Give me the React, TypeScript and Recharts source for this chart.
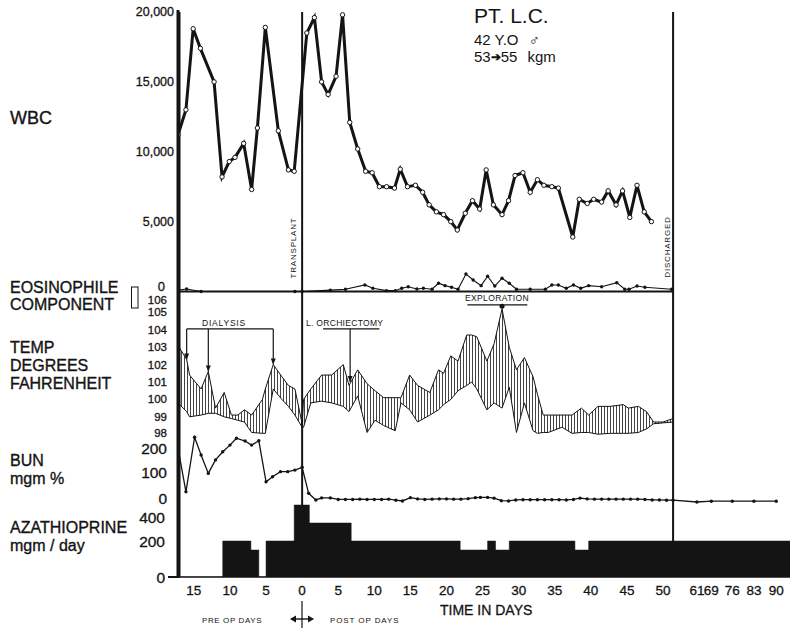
import React from 'react';
import { ComposedChart, Line, Area, XAxis, YAxis, ReferenceLine, ReferenceDot, ReferenceArea } from 'recharts';

// ---------- values ----------
// x: days relative to transplant (negative = pre op)
const xTickDays = [-15, -10, -5, 0, 5, 10, 15, 20, 25, 30, 35, 40, 45, 50, 61, 69, 76, 83, 90];
// after discharge the time axis is compressed
const lateDays = [61, 69, 76, 83, 90];
const lateDayPos = [54.7, 56.7, 59.6, 62.6, 65.7];

const TRANSPLANT_DAY = 0;
const DISCHARGE_DAY = 51.4;

const wbcDays = [
  -17.2, -16.1, -15.1, -14.1, -12.2, -11.1, -10.1, -9.3, -8.1, -7.0, -6.2, -5.1, -3.3, -1.9, -1.1,
  0.65, 1.7, 2.7, 3.6, 4.7, 5.6, 6.6, 7.7, 8.8, 9.7, 10.7, 11.7, 12.8, 13.6, 14.6, 15.7, 16.7, 17.6,
  18.6, 19.6, 20.6, 21.5, 22.6, 23.6, 24.6, 25.5, 26.5, 27.7, 28.6, 29.5, 30.6, 31.6, 32.6, 33.5,
  34.6, 35.5, 37.5, 38.4, 39.5, 40.4, 41.5, 42.4, 43.5, 44.4, 45.4, 46.4, 47.4, 48.4,
];
const wbcCounts = [
  11200, 13000, 18800, 17400, 15000, 8200, 9300, 9600, 10600, 7300, 11700, 18900, 11500, 8700, 8600,
  18500, 19600, 15000, 14100, 15400, 19800, 12100, 10200, 8600, 8500, 7500, 7500, 7400, 8750, 7500,
  7600, 7100, 6200, 5700, 5500, 5000, 4400, 5600, 6500, 5900, 8700, 6200, 5500, 6500, 8300, 8500,
  7100, 8000, 7600, 7500, 7400, 3900, 6600, 6300, 6600, 6400, 7200, 6200, 7200, 5300, 7600, 5700, 5000,
];

const eosDays = [
  -17.2, -16, -14, -1, 0, 3.9, 6, 8.7, 9.8, 11.7, 12.9, 13.8, 14.7, 15.9, 16.8, 18, 18.9, 19.8, 20.7,
  21.6, 22.7, 23.7, 24.8, 25.7, 26.7, 27.7, 28.7, 29.7, 31.6, 33.7, 34.6, 35.5, 36.6, 37.6, 38.6,
  39.7, 41.5, 43.6, 44.7, 45.3, 46.4, 47.5, 51.2,
];
const eosCounts = [
  100, 180, 0, 0, 0, 100, 160, 470, 230, 60, 60, 230, 340, 180, 230, 160, 590, 420, 300, 160, 1250,
  820, 420, 1100, 390, 950, 590, 160, 160, 160, 470, 470, 230, 470, 230, 420, 340, 630, 160, 160,
  390, 300, 160,
];

const tempDays = [
  -17.2, -16, -15.6, -14, -13, -12, -10.8, -9.8, -8.9, -8, -7, -5.5, -5.1, -4, -2.8, -1.9, -1, 0,
  0.2, 1.2, 2.7, 4.1, 5.7, 6.5, 7.7, 9, 10.1, 11.3, 12.9, 13.7, 14.9, 16, 17.7, 18.9, 19.6, 20.6,
  21.6, 22.8, 23.5, 24.2, 25.6, 26.6, 27.7, 28.7, 29.7, 30.8, 32, 32.6, 33.4, 34.1, 36, 37.4, 38.7,
  39.7, 41, 42.7, 44.5, 45.2, 46.6, 47.7, 48.7, 50, 51.4,
];
const tempHigh = [
  103.1, 102.3, 101.4, 100.6, 101.6, 99.5, 100.4, 99.1, 99.1, 99.4, 99.1, 100.0, 100.6, 102.0,
  101.3, 100.8, 100.6, 98.6, 100.0, 100.6, 101.4, 101.4, 102.0, 100.8, 101.7, 100.9, 100.5, 100.1,
  100.1, 100.1, 101.4, 100.8, 100.4, 101.7, 101.5, 102.5, 102.2, 103.7, 103.7, 103.6, 102.2, 103.2,
  105.2, 103.0, 101.7, 102.4, 101.3, 100.3, 99.1, 99.1, 99.1, 99.1, 99.5, 99.1, 99.6, 99.6, 99.7,
  99.5, 99.6, 99.3, 98.7, 98.7, 98.9,
];
const tempLow = [
  99.8, 99.3, 99.0, 99.1, 99.2, 99.2, 99.0, 98.9, 98.8, 98.7, 98.1, 98.05, 98.05, 100.6, 100.0,
  99.6, 99.1, 98.4, 98.4, 99.8, 99.9, 99.8, 99.6, 99.3, 100.2, 98.1, 98.8, 98.5, 98.2, 99.8, 99.4,
  98.7, 99.1, 99.4, 99.7, 100.0, 100.5, 100.8, 101.0, 100.6, 99.4, 99.8, 99.5, 100.7, 98.1, 99.8,
  98.2, 98.05, 98.1, 98.1, 98.4, 98.05, 98.1, 98.1, 98.0, 98.05, 98.05, 98.05, 98.1, 98.3, 98.6,
  98.65, 98.7,
];

const bunDays = [
  -17.2, -16.1, -14.9, -14, -13, -12, -11, -10, -9.1, -7.9, -7, -6, -5, -4.1, -3, -2, -1, 0, 0.9,
  1.9, 2.7, 3.9, 5, 6, 7, 8, 9, 10, 11, 12, 13, 13.9, 15, 16, 17, 18, 19, 20, 21, 22, 23, 24, 24.7,
  25.7, 26.6, 27.6, 28.6, 29.6, 30.6, 31.6, 32.6, 33.6, 34.6, 35.6, 36.6, 37.6, 38.5, 39.5, 40.5,
  41.5, 42.5, 43.5, 44.5, 45.5, 46.5, 47.5, 48.5, 49.5, 50.5, 51.4, 61, 69, 76, 83, 90,
];
const bunValues = [
  215, 44, 258, 188, 116, 169, 201, 227, 254, 243, 227, 244, 83, 103, 123, 123, 129, 140, 38, 12,
  20, 20, 14, 14, 14, 15, 14, 14, 14, 15, 11, 8, 21, 16, 14, 15, 16, 16, 15, 15, 17, 21, 22, 22, 19,
  9, 8, 12, 13, 13, 13, 13, 13, 13, 12, 14, 19, 16, 15, 15, 15, 15, 15, 15, 15, 14, 12, 12, 11, 11,
  4, 7, 7, 7, 7,
];

// azathioprine dose changes (day the dose starts, mgm/day); last dose runs to the end of the axis
const azaDays = [-17.2, -11, -7.1, -6, -5, -1.1, 1, 6.8, 21.9, 25.7, 26.8, 28.7, 37.8, 39.7];
const azaDoses = [0, 200, 150, 0, 200, 400, 300, 200, 150, 200, 150, 200, 150, 200];

const wbcTicks = [0, 5000, 10000, 15000, 20000];
const tempTicks = [98, 99, 100, 101, 102, 103, 104, 105, 106];
const bunTicks = [0, 100, 200];
const azaTicks = [0, 200, 400];

// ---------- layout ----------
const INK = '#141414';
const FONT = '"Liberation Sans", Arial, sans-serif';
const W = 800;
const H = 636;
const PLOT_TOP = 12;
const PLOT_BOTTOM = 577;
const PLOT_LEFT = 178;
const X_MIN = -17.2;
const X_MAX = 67.6;

// put value v1 at pixel p1 and v2 at pixel p2 inside the one shared plot area
function bandDomain(v1: number, p1: number, v2: number, p2: number): [number, number] {
  const k = (v1 - v2) / (p2 - p1);
  return [v2 - (PLOT_BOTTOM - p2) * k, v1 + (p1 - PLOT_TOP) * k];
}
const wbcDomain = bandDomain(20000, 12, 0, 291.5);
const tempDomain = bandDomain(106, 295, 98, 434.2);
const bunDomain = bandDomain(200, 452, 0, 503);
const azaDomain = bandDomain(400, 505, 0, 577);

function axisPos(day: number) {
  if (day <= DISCHARGE_DAY) return day;
  const i = lateDays.indexOf(day);
  if (i >= 0) return lateDayPos[i];
  return day;
}

const xTickPos = xTickDays.map(axisPos);
const xTickLabel = (v: number) => {
  const i = xTickPos.indexOf(v);
  return i >= 0 ? String(Math.abs(xTickDays[i])) : '';
};

const wbcData = wbcDays.map((d, i) => ({ x: axisPos(d), wbc: wbcCounts[i] }));
const eosData = eosDays.map((d, i) => ({ x: axisPos(d), eos: eosCounts[i] }));
const tempData = tempDays.map((d, i) => ({
  x: axisPos(d),
  high: tempHigh[i],
  low: tempLow[i],
  band: [tempLow[i], tempHigh[i]],
}));
const bunData = bunDays.map((d, i) => ({ x: axisPos(d), bun: bunValues[i] }));
const azaData = [
  ...azaDays.map((d, i) => ({ x: axisPos(d), aza: azaDoses[i] })),
  { x: X_MAX, aza: azaDoses[azaDoses.length - 1] },
];

type TickCfg = {
  size: number;
  right: number;
  format?: (v: number) => string;
  nudge?: Record<number, number>;
  shift?: Record<number, number>;
  sizes?: Record<number, number>;
};

function makeTick(cfg: TickCfg) {
  return (p: any) => {
    const v = p.payload.value;
    const label = cfg.format ? cfg.format(v) : String(v);
    const y = p.y + (cfg.nudge?.[v] ?? 0);
    return (
      <text
        x={cfg.right + (cfg.shift?.[v] ?? 0)}
        y={y}
        textAnchor="end"
        dominantBaseline="central"
        fontSize={cfg.sizes?.[v] ?? cfg.size}
        fontFamily={FONT}
        fill={INK}
        stroke={INK}
        strokeWidth={0.3}
      >
        {label}
      </text>
    );
  };
}

const wbcTick = makeTick({
  size: 12.5,
  right: 174,
  format: (v) => v.toLocaleString('en-US'),
  nudge: { 0: -5.5 },
  shift: { 0: -9 },
  sizes: { 0: 13 },
});
const tempTick = makeTick({ size: 11.5, right: 167, nudge: { 106: 5, 98: -1 } });
const bunTick = makeTick({ size: 15.5, right: 167, nudge: { 0: -5, 100: -5, 200: -4 } });
const azaTick = makeTick({ size: 15.5, right: 165, nudge: { 400: 12 } });

const Arrow = (p: any) => (
  <g>
    <line x1={p.x1} y1={p.y1} x2={p.x2} y2={p.y2} stroke={INK} strokeWidth={1.2} />
    <path d={`M${p.x2 - 2.5},${p.y2 - 6} L${p.x2 + 2.5},${p.y2 - 6} L${p.x2},${p.y2} Z`} fill={INK} />
  </g>
);

const small = { fontFamily: FONT, fontSize: 8.5, letterSpacing: 0.8, fill: INK };
const big = { fontFamily: FONT, fontSize: 16, fill: INK, stroke: INK, strokeWidth: 0.35 };

export default function App() {
  return (
    <div style={{ position: 'absolute', left: 0, top: 0, width: W, height: H, background: '#fff' }}>
      <ComposedChart
        width={W}
        height={H}
        margin={{ top: PLOT_TOP, right: 10, bottom: 29, left: PLOT_LEFT - 4 }}
        style={{ fontFamily: FONT }}
      >
        <defs>
          <pattern id="vhatch" width="3" height="4" patternUnits="userSpaceOnUse">
            <line x1="1.5" y1="0" x2="1.5" y2="4" stroke={INK} strokeWidth="0.8" />
          </pattern>
        </defs>
        <XAxis
          type="number"
          dataKey="x"
          domain={[X_MIN, X_MAX]}
          ticks={xTickPos}
          tickFormatter={xTickLabel}
          interval={0}
          allowDataOverflow
          height={30}
          axisLine={{ stroke: INK, strokeWidth: 1.5 }}
          tickLine={false}
          tick={{ fontSize: 13.5, fill: INK, fontFamily: FONT, stroke: INK, strokeWidth: 0.3 }}
        />
        <YAxis yAxisId="wbc" type="number" domain={wbcDomain} ticks={wbcTicks} interval={0}
          allowDataOverflow width={1} axisLine={false} tickLine={false} tick={wbcTick} />
        <YAxis yAxisId="temp" type="number" domain={tempDomain} ticks={tempTicks} interval={0}
          allowDataOverflow width={1} axisLine={false} tickLine={false} tick={tempTick} />
        <YAxis yAxisId="bun" type="number" domain={bunDomain} ticks={bunTicks} interval={0}
          allowDataOverflow width={1} axisLine={false} tickLine={false} tick={bunTick} />
        <YAxis yAxisId="aza" type="number" domain={azaDomain} ticks={azaTicks} interval={0}
          allowDataOverflow width={1} axisLine={false} tickLine={false} tick={azaTick} />

        {/* left frame: a thin strip at the start of the time axis */}
        <ReferenceArea
          yAxisId="wbc"
          x1={X_MIN}
          x2={X_MIN + 0.35}
          fill={INK}
          fillOpacity={1}
          stroke="none"
          ifOverflow="visible"
        />
        <ReferenceLine yAxisId="wbc" x={TRANSPLANT_DAY} stroke={INK} strokeWidth={2} />
        <ReferenceLine yAxisId="wbc" x={DISCHARGE_DAY} stroke={INK} strokeWidth={2} />
        <ReferenceLine
          yAxisId="wbc"
          segment={[{ x: X_MIN, y: 0 }, { x: DISCHARGE_DAY, y: 0 }]}
          stroke={INK}
          strokeWidth={1.8}
        />

        <Area
          yAxisId="aza"
          data={azaData}
          dataKey="aza"
          type="stepAfter"
          fill={INK}
          fillOpacity={1}
          stroke={INK}
          strokeWidth={0.5}
          isAnimationActive={false}
        />

        <Area
          yAxisId="temp"
          data={tempData}
          dataKey="band"
          type="linear"
          fill="url(#vhatch)"
          fillOpacity={1}
          stroke="none"
          isAnimationActive={false}
        />
        <Line yAxisId="temp" data={tempData} dataKey="high" type="linear" stroke={INK}
          strokeWidth={1} dot={false} isAnimationActive={false} />
        <Line yAxisId="temp" data={tempData} dataKey="low" type="linear" stroke={INK}
          strokeWidth={1} dot={false} isAnimationActive={false} />

        {/* dialysis bracket and arrows */}
        <ReferenceLine yAxisId="temp" segment={[{ x: -16, y: 104.05 }, { x: -4, y: 104.05 }]} stroke={INK} strokeWidth={1.2} />
        <ReferenceLine yAxisId="temp" segment={[{ x: -16, y: 104.05 }, { x: -16, y: 102.3 }]} shape={Arrow} />
        <ReferenceLine yAxisId="temp" segment={[{ x: -13, y: 104.05 }, { x: -13, y: 101.6 }]} shape={Arrow} />
        <ReferenceLine yAxisId="temp" segment={[{ x: -4, y: 104.05 }, { x: -4, y: 102.0 }]} shape={Arrow} />
        {/* orchiectomy */}
        <ReferenceLine yAxisId="temp" segment={[{ x: 2.9, y: 104.05 }, { x: 10.7, y: 104.05 }]} stroke={INK} strokeWidth={1.2} />
        <ReferenceLine yAxisId="temp" segment={[{ x: 6.65, y: 104.05 }, { x: 6.65, y: 101.0 }]} shape={Arrow} />
        {/* exploration */}
        <ReferenceLine yAxisId="temp" segment={[{ x: 22.9, y: 105.43 }, { x: 31.2, y: 105.43 }]} stroke={INK} strokeWidth={1.4} />
        <ReferenceDot yAxisId="temp" x={27.7} y={105.35} r={2.5} fill={INK} stroke="none" />

        <Line yAxisId="bun" data={bunData} dataKey="bun" type="linear" stroke={INK} strokeWidth={1.3}
          dot={{ r: 1.7, fill: INK, stroke: 'none' }} isAnimationActive={false} />

        <Line yAxisId="wbc" data={eosData} dataKey="eos" type="linear" stroke={INK} strokeWidth={1.1}
          dot={{ r: 1.7, fill: INK, stroke: 'none' }} isAnimationActive={false} />
        <Line yAxisId="wbc" data={wbcData} dataKey="wbc" type="linear" stroke={INK} strokeWidth={3}
          dot={{ r: 2.2, fill: '#fff', stroke: INK, strokeWidth: 1 }} isAnimationActive={false} />
      </ComposedChart>

      <svg
        width={W}
        height={H}
        viewBox={`0 0 ${W} ${H}`}
        style={{ position: 'absolute', left: 0, top: 0, pointerEvents: 'none', zIndex: 2 }}
      >
        {/* left frame line shared by all panels, with the small "0" tick of the dose scale */}
        <rect x={PLOT_LEFT - 1.5} y={PLOT_TOP - 2} width={3} height={PLOT_BOTTOM - PLOT_TOP + 3} fill={INK} />
        <rect x={168} y={PLOT_BOTTOM - 1} width={10} height={2} fill={INK} />

        <text x={10} y={124} {...big} fontSize={18}>WBC</text>
        <text x={10} y={293} {...big}>EOSINOPHILE</text>
        <text x={10} y={310} {...big}>COMPONENT</text>
        <rect x={131.5} y={287} width={6.5} height={21} fill="none" stroke={INK} strokeWidth={1} />
        <text x={10} y={353} {...big}>TEMP</text>
        <text x={10} y={371} {...big}>DEGREES</text>
        <text x={10} y={389} {...big}>FAHRENHEIT</text>
        <text x={10} y={466} {...big}>BUN</text>
        <text x={10} y={484} {...big}>mgm %</text>
        <text x={10} y={533} {...big}>AZATHIOPRINE</text>
        <text x={10} y={551} {...big}>mgm / day</text>

        <text x={474} y={23} fontFamily={FONT} fontSize={21} fill={INK}>PT. L.C.</text>
        <text x={474} y={45} fontFamily={FONT} fontSize={15} fill={INK}>
          42 Y.O <tspan dx={6} fontSize={15} fontWeight="bold">♂</tspan>
        </text>
        <text x={474} y={62} fontFamily={FONT} fontSize={15} fill={INK}>
          53<tspan fontSize={12} fontWeight="bold" dy={-1}>➔</tspan><tspan dy={1}>55</tspan>
          <tspan dx={10}>kgm</tspan>
        </text>

        <text transform="translate(296,248) rotate(-90)" textAnchor="middle" {...small} fontSize={8}>TRANSPLANT</text>
        <text transform="translate(670,247) rotate(-90)" textAnchor="middle" {...small} fontSize={8}>DISCHARGED</text>
        <text x={224} y={326} textAnchor="middle" {...small}>DIALYSIS</text>
        <text x={306} y={326} {...small} letterSpacing={0.3}>L. ORCHIECTOMY</text>
        <text x={497} y={301} textAnchor="middle" {...small} letterSpacing={0.4}>EXPLORATION</text>

        <text x={440} y={615} fontFamily={FONT} fontSize={14} fill={INK} stroke={INK} strokeWidth={0.3}>TIME IN DAYS</text>
        <text x={202} y={623} {...small} fontSize={8} letterSpacing={0.6}>PRE OP DAYS</text>
        <text x={330} y={623} {...small} fontSize={8} letterSpacing={0.9}>POST OP DAYS</text>
        <line x1={302} y1={601} x2={302} y2={628} stroke={INK} strokeWidth={1.2} />
        <line x1={291} y1={619} x2={313} y2={619} stroke={INK} strokeWidth={1.4} />
        <path d="M290,619 l6,-3.5 v7 z M314,619 l-6,-3.5 v7 z" fill={INK} />
      </svg>
    </div>
  );
}
